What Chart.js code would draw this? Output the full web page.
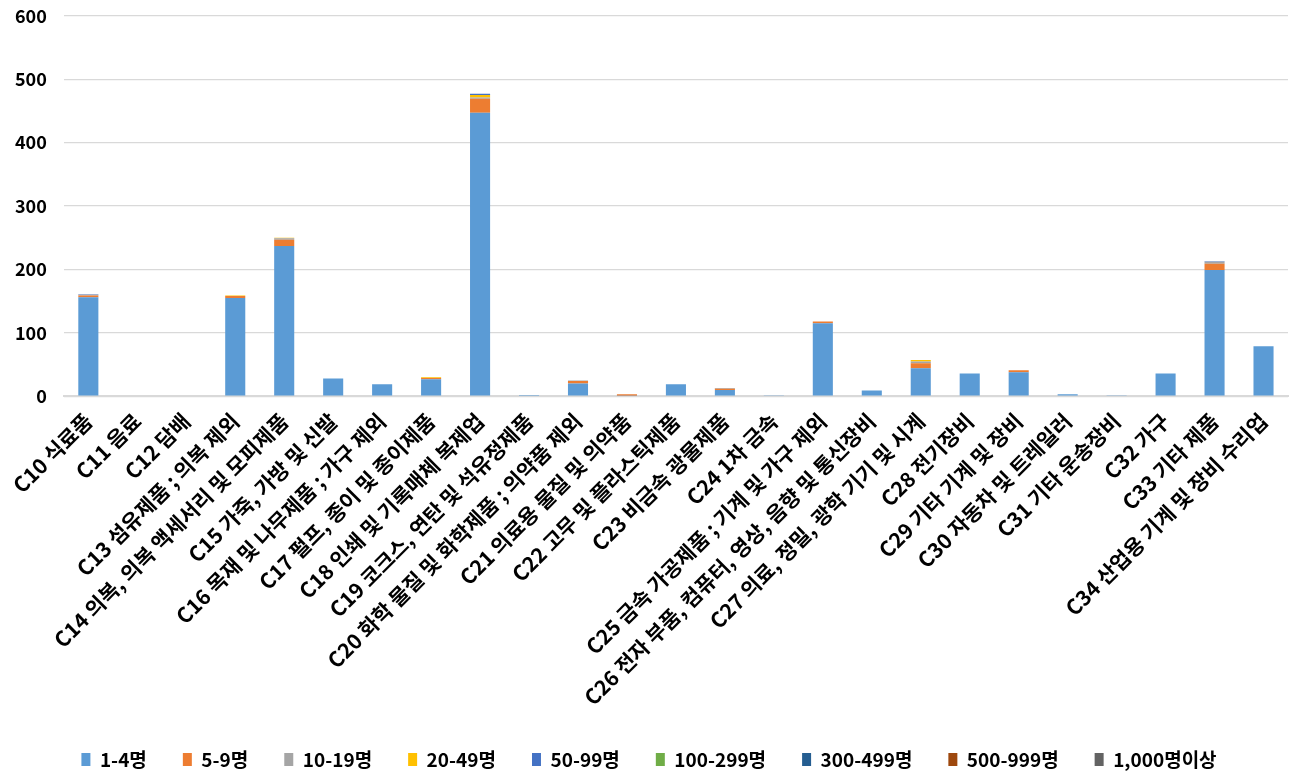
<!DOCTYPE html>
<html>
<head>
<meta charset="utf-8">
<script src="https://cdn.jsdelivr.net/npm/chart.js@4/dist/chart.umd.min.js"></script>
<style>
  html, body { margin: 0; padding: 0; background: #fff; }
  #wrap { width: 1302px; height: 783px; }
</style>
</head>
<body>
<div id="wrap"><canvas id="bizChart" width="1302" height="783"></canvas></div>
<script>
const categories = [
  'C10 식료품', 'C11 음료', 'C12 담배', 'C13 섬유제품 ; 의복 제외',
  'C14 의복, 의복 액세서리 및 모피제품', 'C15 가죽, 가방 및 신발',
  'C16 목재 및 나무제품 ; 가구 제외', 'C17 펄프, 종이 및 종이제품',
  'C18 인쇄 및 기록매체 복제업', 'C19 코크스, 연탄 및 석유정제품',
  'C20 화학 물질 및 화학제품 ; 의약품 제외', 'C21 의료용 물질 및 의약품',
  'C22 고무 및 플라스틱제품', 'C23 비금속 광물제품', 'C24 1차 금속',
  'C25 금속 가공제품 ; 기계 및 가구 제외',
  'C26 전자 부품, 컴퓨터, 영상, 음향 및 통신장비',
  'C27 의료, 정밀, 광학 기기 및 시계', 'C28 전기장비', 'C29 기타 기계 및 장비',
  'C30 자동차 및 트레일러', 'C31 기타 운송장비', 'C32 가구', 'C33 기타 제품',
  'C34 산업용 기계 및 장비 수리업'
];

const seriesNames = ['1-4명', '5-9명', '10-19명', '20-49명', '50-99명', '100-299명', '300-499명', '500-999명', '1,000명이상'];
const seriesColors = ['#5B9BD5', '#ED7D31', '#A5A5A5', '#FFC000', '#4472C4', '#70AD47', '#255E91', '#9E480E', '#636363'];

//                C10 C11 C12 C13  C14 C15 C16 C17 C18 C19 C20 C21 C22 C23 C24 C25 C26 C27 C28 C29 C30 C31 C32 C33 C34
const size1_4   = [156, 0, 0, 155, 237, 28, 19, 27, 447, 2, 20, 1, 19, 10, 1, 115, 9, 44, 36, 38, 3, 1, 36, 199, 79];
const size5_9   = [3, 0, 0, 3, 10, 0, 0, 2, 22, 0, 4, 2, 0, 2, 0, 3, 0, 8, 0, 3, 0, 0, 0, 10, 0];
const size10_19 = [1, 0, 0, 0, 2, 0, 0, 0, 2, 0, 1, 0, 0, 1, 0, 0, 0, 3, 0, 0, 0, 0, 0, 3, 0];
const size20_49 = [0, 0, 0, 1, 1, 0, 0, 1, 4, 0, 0, 0, 0, 0, 0, 0, 0, 2, 0, 0, 0, 0, 0, 0, 0];
const size50_99 = [1, 0, 0, 0, 0, 0, 0, 0, 2, 0, 0, 0, 0, 0, 0, 0, 0, 0, 0, 0, 0, 0, 0, 1, 0];
const size100_299 = [0, 0, 0, 0, 0, 0, 0, 0, 0, 0, 0, 0, 0, 0, 0, 0, 0, 0, 0, 0, 0, 0, 0, 0, 0];
const size300_499 = [0, 0, 0, 0, 0, 0, 0, 0, 0, 0, 0, 0, 0, 0, 0, 0, 0, 0, 0, 0, 0, 0, 0, 0, 0];
const size500_999 = [0, 0, 0, 0, 0, 0, 0, 0, 0, 0, 0, 0, 0, 0, 0, 0, 0, 0, 0, 0, 0, 0, 0, 0, 0];
const size1000  = [0, 0, 0, 0, 0, 0, 0, 0, 0, 0, 0, 0, 0, 0, 0, 0, 0, 0, 0, 0, 0, 0, 0, 0, 0];

const yTicks = [0, 100, 200, 300, 400, 500, 600];

const seriesData = [size1_4, size5_9, size10_19, size20_49, size50_99, size100_299, size300_499, size500_999, size1000];

const fontFamily = "'Noto Sans CJK KR', 'Noto Sans', sans-serif";

const ctx = document.getElementById('bizChart').getContext('2d');

new Chart(ctx, {
  type: 'bar',
  data: {
    labels: categories,
    datasets: seriesNames.map((name, i) => ({
      label: name,
      data: seriesData[i],
      backgroundColor: seriesColors[i],
      borderWidth: 0,
      barPercentage: 0.41,
      categoryPercentage: 1
    }))
  },
  options: {
    responsive: false,
    animation: false,
    layout: { padding: { left: 10, right: 14, top: 0, bottom: 4 } },
    plugins: {
      legend: {
        position: 'bottom',
        labels: {
          color: '#000',
          font: { family: fontFamily, size: 19, weight: 'bold' },
          boxWidth: 9,
          boxHeight: 13,
          padding: 36
        }
      },
      tooltip: { enabled: false }
    },
    scales: {
      x: {
        stacked: true,
        grid: { display: false },
        border: { color: '#d9d9d9', width: 2 },
        ticks: {
          color: '#000',
          autoSkip: false,
          maxRotation: 45,
          minRotation: 45,
          padding: 4,
          font: { family: fontFamily, size: 21, weight: 'bold' }
        }
      },
      y: {
        stacked: true,
        min: 0,
        max: 600,
        afterBuildTicks: axis => { axis.ticks = yTicks.map(v => ({ value: v })); },
        grid: { color: '#d9d9d9', lineWidth: 1.3, drawTicks: true, tickLength: 12, tickColor: 'transparent' },
        border: { display: false },
        ticks: {
          color: '#000',
          padding: 5,
          font: { family: fontFamily, size: 18, weight: 'bold' }
        }
      }
    }
  }
});
</script>
</body>
</html>
